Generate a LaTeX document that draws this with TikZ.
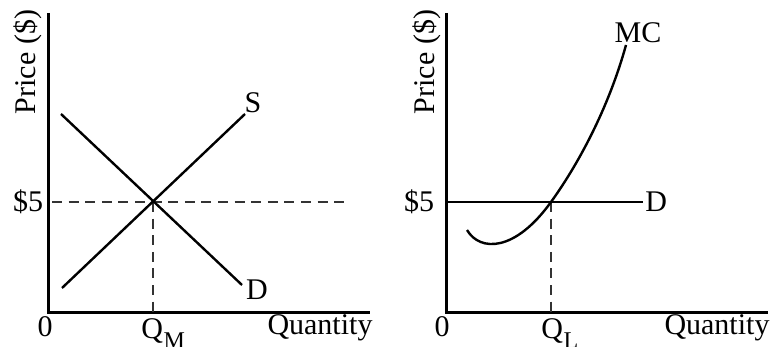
\documentclass[tikz,border=0pt]{standalone}
\usepackage{fontspec}
\setmainfont{Liberation Serif}
\usepackage{tikz}
\usetikzlibrary{positioning}

\newcommand{\qsub}[1]{Q\kern0.3pt\raisebox{-5pt}{\fontsize{12}{13}\selectfont #1}}

\begin{document}
\begin{tikzpicture}[x=0.5pt, y=-0.5pt,
    axis/.style={line width=1.5pt},
    curve/.style={line width=1.2pt},
    guide/.style={line width=0.7pt, black!80, dash pattern=on 5pt off 3.3pt},
    lbl/.style={font=\fontsize{15}{17}\selectfont, inner sep=0pt}]
\useasboundingbox (0,0) rectangle (770,347);
% market
\begin{scope}
    \coordinate (mTop) at (48,13);
    \coordinate (mO) at (48,312);
    \coordinate (mEnd) at (370,312);
    \coordinate (mEq) at (153,202);
    \coordinate (mQ) at (153,312);
    \coordinate (mLeft) at (52,202);
    \coordinate (mRight) at (348,202);
    \coordinate (sLow) at (62,288);
    \coordinate (sHigh) at (245,114);
    \coordinate (dHigh) at (61,114);
    \coordinate (dLow) at (242,285);
    \draw[axis] (mTop) -- (mO) -- (mEnd);
    \draw[guide] (mLeft) -- (mRight);
    \draw[guide] (mEq) -- (mQ);
    \draw[curve] (sLow) -- (sHigh);
    \draw[curve] (dHigh) -- (dLow);
    \node[lbl] (sLbl) at (253,103) {S};
    \node[lbl] (dLbl) at (257,290) {D};
    \node[lbl] (mPrice) at (28,202) {\$5};
    \node[lbl, rotate=90] (mYlbl) at (28,62) {Price (\$)};
    \node[lbl] (mZero) at (45,327) {0};
    \node[lbl, anchor=base west] (mQlbl) at (141,338) {\qsub{M}};
    \node[lbl] (mXlbl) at (320,328) {Quantity};
\end{scope}
% firm
\begin{scope}
    \coordinate (fTop) at (446,13);
    \coordinate (fO) at (446,312);
    \coordinate (fEnd) at (768,312);
    \coordinate (fEq) at (551,202);
    \coordinate (fQ) at (551,312);
    \coordinate (fRight) at (643,202);
    \coordinate (mcStart) at (467,230);
    \coordinate (mcEnd) at (626,45);
    \draw[axis] (fTop) -- (fO) -- (fEnd);
    \draw[curve] (fO |- fEq) -- (fRight);
    \draw[guide] (fEq) -- (fQ);
    \draw[curve] (mcStart) .. controls (480,252) and (515,252) .. (fEq)
        .. controls (577,166) and (608,110) .. (mcEnd);
    \node[lbl, right=1pt of fRight] (fDlbl) {D};
    \node[lbl] (mcLbl) at (638,33) {MC};
    \node[lbl] (fPrice) at (419,202) {\$5};
    \node[lbl, rotate=90] (fYlbl) at (427,62) {Price (\$)};
    \node[lbl] (fZero) at (442,327) {0};
    \node[lbl, anchor=base west] (fQlbl) at (541,338) {\qsub{L}};
    \node[lbl] (fXlbl) at (717,328) {Quantity};
\end{scope}
\end{tikzpicture}
\end{document}
